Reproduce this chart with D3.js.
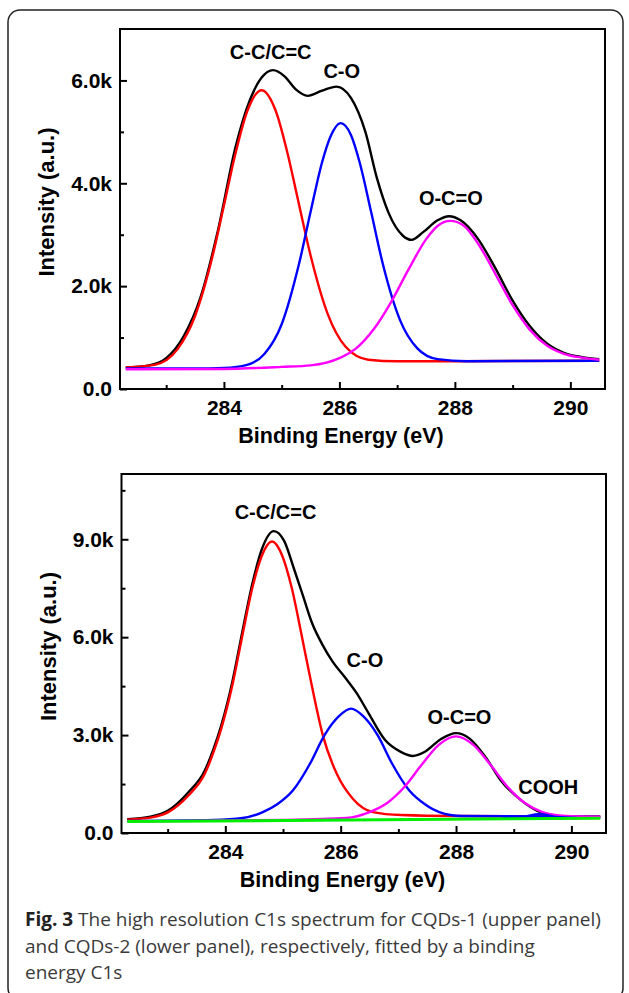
<!DOCTYPE html>
<html>
<head>
<meta charset="utf-8">
<script src="https://cdn.jsdelivr.net/npm/d3@7"></script>
<style>
  body { margin: 0; background: #fff; }
  svg { display: block; }
</style>
</head>
<body>
<svg id="fig" width="629" height="993"></svg>
<script>
// binding energy axis (eV), shared by both panels
var energyDomain = [282.2, 290.6];
var energyMajor = [284, 286, 288, 290];
var energyMinor = [283, 285, 287, 289];

// ---- upper panel : CQDs-1 ----
var topMajor = [0, 2000, 4000, 6000];
var topMinor = [1000, 3000, 5000];
var topEnvelope = [[282.3,420],[282.7,460],[283.0,600],[283.3,1020],[283.6,1800],[283.9,3100],[284.2,4700],[284.45,5620],[284.65,6050],[284.85,6200],[285.05,6080],[285.25,5820],[285.45,5700],[285.7,5800],[285.95,5880],[286.2,5660],[286.45,5000],[286.65,4100],[286.85,3430],[287.1,2980],[287.25,2900],[287.45,3050],[287.7,3280],[287.9,3360],[288.1,3280],[288.4,2920],[288.7,2350],[289.0,1720],[289.3,1220],[289.6,880],[289.9,700],[290.2,620],[290.5,580]];
var topCC = [[282.3,420],[282.8,470],[283.2,780],[283.5,1420],[283.8,2570],[284.0,3570],[284.2,4580],[284.4,5390],[284.65,5810],[284.9,5400],[285.1,4590],[285.3,3590],[285.5,2600],[285.8,1450],[286.1,830],[286.5,570],[287.0,540],[288.0,540],[290.5,550]];
var topCO = [[282.3,400],[283.5,400],[284.0,410],[284.4,470],[284.7,680],[285.0,1260],[285.3,2430],[285.5,3440],[285.7,4410],[285.85,4920],[286.02,5170],[286.2,4940],[286.35,4410],[286.55,3440],[286.75,2440],[287.05,1340],[287.35,790],[287.7,580],[288.2,540],[290.5,550]];
var topOCO = [[282.3,385],[284.0,390],[285.0,430],[285.5,460],[286.0,600],[286.3,800],[286.6,1170],[286.9,1700],[287.2,2330],[287.5,2910],[287.7,3170],[287.92,3270],[288.15,3180],[288.4,2830],[288.7,2240],[289.0,1630],[289.3,1150],[289.6,840],[289.9,680],[290.2,610],[290.5,570]];
var topLabels = [["C-C/C=C", 284.81, 6410], ["C-O", 286.04, 6040], ["O-C=O", 287.93, 3570]];

// ---- lower panel : CQDs-2 ----
var botMajor = [0, 3000, 6000, 9000];
var botMinor = [1500, 4500, 7500, 10500];
var botEnvelope = [[282.3,420],[282.7,500],[283.0,680],[283.36,1250],[283.64,1900],[283.8,2600],[283.93,3300],[284.12,4620],[284.29,6120],[284.47,7650],[284.63,8680],[284.84,9250],[285.02,8950],[285.18,8150],[285.35,7250],[285.5,6450],[285.69,5750],[285.86,5250],[286.07,4780],[286.28,4280],[286.49,3650],[286.77,2850],[287.05,2480],[287.25,2360],[287.46,2490],[287.74,2880],[288.0,3060],[288.23,2900],[288.51,2330],[288.78,1600],[289.13,1000],[289.41,680],[289.69,550],[289.97,470],[290.5,470]];
var botCC = [[282.3,410],[282.73,480],[283.01,640],[283.36,1150],[283.64,1800],[283.8,2500],[283.93,3200],[284.12,4510],[284.29,6000],[284.47,7520],[284.63,8480],[284.81,8930],[284.99,8480],[285.15,7520],[285.33,6000],[285.5,4510],[285.69,3000],[285.93,1820],[286.21,1050],[286.56,640],[287.05,550],[288.0,520],[290.5,510]];
var botCO = [[282.3,370],[283.8,400],[284.3,460],[284.65,640],[284.9,880],[285.17,1300],[285.47,2130],[285.72,3000],[285.97,3580],[286.18,3810],[286.39,3580],[286.64,3000],[286.89,2130],[287.19,1300],[287.46,880],[287.71,640],[288.1,520],[290.5,500]];
var botOCO = [[282.3,360],[285.0,400],[286.1,460],[286.5,640],[286.8,910],[287.1,1400],[287.4,2080],[287.7,2700],[288.0,2960],[288.3,2700],[288.6,2080],[288.9,1400],[289.2,910],[289.5,640],[289.9,520],[290.5,490]];
var botCOOH = [[288.8,450],[289.15,490],[289.45,580],[289.75,490],[290.1,460]];
var botBackground = [[282.3,350],[290.5,455]];
var botLabels = [["C-C/C=C", 284.87, 9610], ["C-O", 286.42, 5080], ["O-C=O", 288.06, 3340], ["COOH", 289.6, 1190]];

var captionLines = [
  [["Fig. 3", true], [" The high resolution C1s spectrum for CQDs-1 (upper panel)", false]],
  [["and CQDs-2 (lower panel), respectively, fitted by a binding", false]],
  [["energy C1s", false]]
];

var svg = d3.select("#fig");
var chartFont = "'Liberation Sans', Arial, Helvetica, sans-serif";

// rounded border round the whole figure
svg.append("rect")
  .attr("x", 8).attr("y", 10)
  .attr("width", 615).attr("height", 990)
  .attr("rx", 12)
  .attr("fill", "none")
  .attr("stroke", "#222")
  .attr("stroke-width", 1.5);

function kFormat(v) {
  return v === 0 ? "0.0" : (v / 1000).toFixed(1) + "k";
}

function drawPanel(id, box, yMax, yMajor, yMinor, series, labels) {
  var g = svg.append("g").attr("id", id);

  var x = d3.scaleLinear().domain(energyDomain).range([box.left, box.right]);
  var y = d3.scaleLinear().domain([0, yMax]).range([box.bottom, box.top]);

  g.append("clipPath").attr("id", id + "-clip")
    .append("rect")
    .attr("x", box.left).attr("y", box.top)
    .attr("width", box.right - box.left).attr("height", box.bottom - box.top);

  var line = d3.line()
    .x(function(d) { return x(d[0]); })
    .y(function(d) { return y(d[1]); })
    .curve(d3.curveMonotoneX);

  var curves = g.append("g").attr("clip-path", "url(#" + id + "-clip)");
  series.forEach(function(s) {
    curves.append("path")
      .datum(s.data)
      .attr("d", line)
      .attr("fill", "none")
      .attr("stroke", s.color)
      .attr("stroke-width", s.width || 2.4)
      .attr("stroke-linejoin", "round");
  });

  // ticks point into the plot
  var xAxis = g.append("g")
    .attr("transform", "translate(0," + box.bottom + ")")
    .call(d3.axisBottom(x).tickValues(energyMajor).tickSize(-7).tickPadding(11).tickFormat(d3.format("d")));
  var xMinor = g.append("g")
    .attr("transform", "translate(0," + box.bottom + ")")
    .call(d3.axisBottom(x).tickValues(energyMinor).tickSize(-4).tickFormat(""));
  var yAxis = g.append("g")
    .attr("transform", "translate(" + box.left + ",0)")
    .call(d3.axisLeft(y).tickValues(yMajor).tickSize(-7).tickPadding(8).tickFormat(kFormat));
  var yMinorAxis = g.append("g")
    .attr("transform", "translate(" + box.left + ",0)")
    .call(d3.axisLeft(y).tickValues(yMinor).tickSize(-4).tickFormat(""));

  [xAxis, xMinor, yAxis, yMinorAxis].forEach(function(a) {
    a.select(".domain").remove();
    a.selectAll("line").attr("stroke", "#000").attr("stroke-width", 2);
    a.selectAll("text")
      .attr("font-family", chartFont)
      .attr("font-weight", "bold")
      .attr("font-size", 21)
      .attr("fill", "#000");
  });

  g.append("rect")
    .attr("x", box.left).attr("y", box.top)
    .attr("width", box.right - box.left).attr("height", box.bottom - box.top)
    .attr("fill", "none")
    .attr("stroke", "#000")
    .attr("stroke-width", 2);

  g.selectAll(".peak")
    .data(labels)
    .enter().append("text")
    .attr("class", "peak")
    .attr("x", function(d) { return x(d[1]); })
    .attr("y", function(d) { return y(d[2]); })
    .attr("text-anchor", "middle")
    .attr("font-family", chartFont)
    .attr("font-weight", "bold")
    .attr("font-size", 20)
    .text(function(d) { return d[0]; });

  g.append("text")
    .attr("x", box.left + 221)
    .attr("y", box.bottom + 54)
    .attr("text-anchor", "middle")
    .attr("font-family", chartFont)
    .attr("font-weight", "bold")
    .attr("font-size", 21.5)
    .text("Binding Energy (eV)");

  var midY = (box.top + box.bottom) / 2 - 7;
  g.append("text")
    .attr("transform", "translate(" + (box.left - 66) + "," + midY + ") rotate(-90)")
    .attr("text-anchor", "middle")
    .attr("font-family", chartFont)
    .attr("font-weight", "bold")
    .attr("font-size", 22)
    .text("Intensity (a.u.)");
}

drawPanel("upper", {left: 120, right: 605, top: 29, bottom: 389}, 7000, topMajor, topMinor, [
  {data: topEnvelope, color: "#000000"},
  {data: topCC, color: "#ff0000"},
  {data: topCO, color: "#0000ff"},
  {data: topOCO, color: "#ff00ff"}
], topLabels);

drawPanel("lower", {left: 121.5, right: 606, top: 474, bottom: 833}, 11000, botMajor, botMinor, [
  {data: botEnvelope, color: "#000000"},
  {data: botCC, color: "#ff0000"},
  {data: botCO, color: "#0000ff"},
  {data: botOCO, color: "#ff00ff"},
  {data: botCOOH, color: "#0000ff"},
  {data: botBackground, color: "#00ee00", width: 3}
], botLabels);

// caption
var caption = svg.append("g")
  .attr("font-family", "'Open Sans', 'Noto Sans', sans-serif")
  .attr("font-size", 19);
captionLines.forEach(function(parts, i) {
  var t = caption.append("text")
    .attr("x", 25)
    .attr("y", 926 + i * 26.5);
  parts.forEach(function(p) {
    t.append("tspan")
      .attr("font-weight", p[1] ? "bold" : "normal")
      .attr("fill", p[1] ? "#222" : "#3a3a3a")
      .text(p[0]);
  });
});
</script>
</body>
</html>
